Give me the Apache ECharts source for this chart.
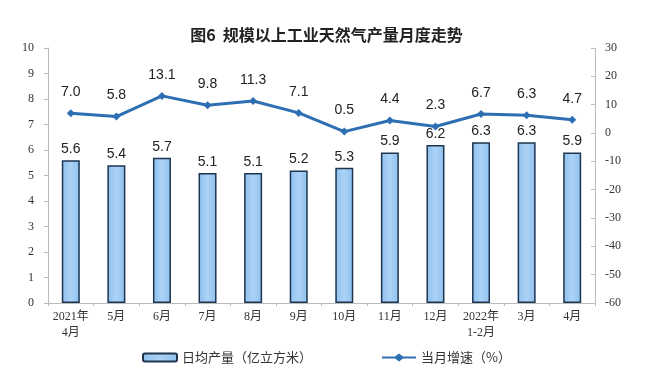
<!DOCTYPE html>
<html><head><meta charset="utf-8">
<script src="https://cdn.jsdelivr.net/npm/echarts@6/dist/echarts.min.js"></script>
<style>html,body{margin:0;padding:0;background:#fff}#c{width:653px;height:387px}</style>
</head><body><div id="c"></div>
<script>
const categories = ['2021年\n4月','5月','6月','7月','8月','9月','10月','11月','12月','2022年\n1-2月','3月','4月'];
const output = [5.6,5.4,5.7,5.1,5.1,5.2,5.3,5.9,6.2,6.3,6.3,5.9];
const growth = [7.0,5.8,13.1,9.8,11.3,7.1,0.5,4.4,2.3,6.7,6.3,4.7];
const titleText = '图6  规模以上工业天然气产量月度走势';
const barName = '日均产量（亿立方米）';
const lineName = '当月增速（%）';

const chart = echarts.init(document.getElementById('c'));
const serif = '"Liberation Serif","Noto Sans CJK SC",serif';
chart.setOption({
  animation:false,
  title:{text:titleText,left:'center',top:22,textStyle:{fontSize:16,fontWeight:'bold',color:'#222',fontFamily:'"Noto Sans CJK SC",sans-serif'}},
  grid:{left:48,right:58,top:48,bottom:84},
  legend:{bottom:18,itemGap:70,itemWidth:34,itemHeight:8,textStyle:{fontSize:13,color:'#333',fontFamily:'"Noto Sans CJK SC",sans-serif'},
    data:[{name:barName},{name:lineName,icon:'path://M0,3 L13,3 L17,0 L21,3 L34,3 L34,5 L21,5 L17,8 L13,5 L0,5 Z'}]},
  xAxis:{type:'category',data:categories,
    axisLine:{lineStyle:{color:'#bbb'}},axisTick:{show:true,length:3,lineStyle:{color:'#bbb'}},
    axisLabel:{interval:0,color:'#333',fontSize:12,fontFamily:serif,lineHeight:16,margin:6}},
  yAxis:[
    {type:'value',min:0,max:10,interval:1,splitLine:{show:false},
     axisLine:{show:true,lineStyle:{color:'#bbb'}},axisTick:{show:true,length:4,inside:false,lineStyle:{color:'#bbb'}},
     axisLabel:{color:'#333',fontSize:12,fontFamily:serif,margin:14}},
    {type:'value',min:-60,max:30,interval:10,splitLine:{show:false},
     axisLine:{show:true,lineStyle:{color:'#bbb'}},axisTick:{show:true,length:4,inside:true,lineStyle:{color:'#bbb'}},
     axisLabel:{color:'#333',fontSize:12,fontFamily:serif,margin:10}}
  ],
  series:[
    {name:barName,type:'bar',data:output,barWidth:18,yAxisIndex:0,
     itemStyle:{color:new echarts.graphic.LinearGradient(0,0,1,0,[{offset:0,color:'#8ec0ee'},{offset:0.5,color:'#acd3f6'},{offset:1,color:'#8ec0ee'}]),borderColor:'#1d3550',borderWidth:1.5},
     label:{show:true,position:'top',formatter:p=>p.value.toFixed(1),fontSize:14,color:'#222',fontFamily:'"Liberation Sans",Arial,sans-serif',distance:4}},
    {name:lineName,type:'line',data:growth,yAxisIndex:1,symbol:'diamond',symbolSize:8,
     lineStyle:{color:'#2e6fb3',width:3},itemStyle:{color:'#2e6fb3'},
     label:{show:true,position:'top',formatter:p=>p.value.toFixed(1),fontSize:14,color:'#222',fontFamily:'"Liberation Sans",Arial,sans-serif',distance:10}}
  ]
});
</script></body></html>
